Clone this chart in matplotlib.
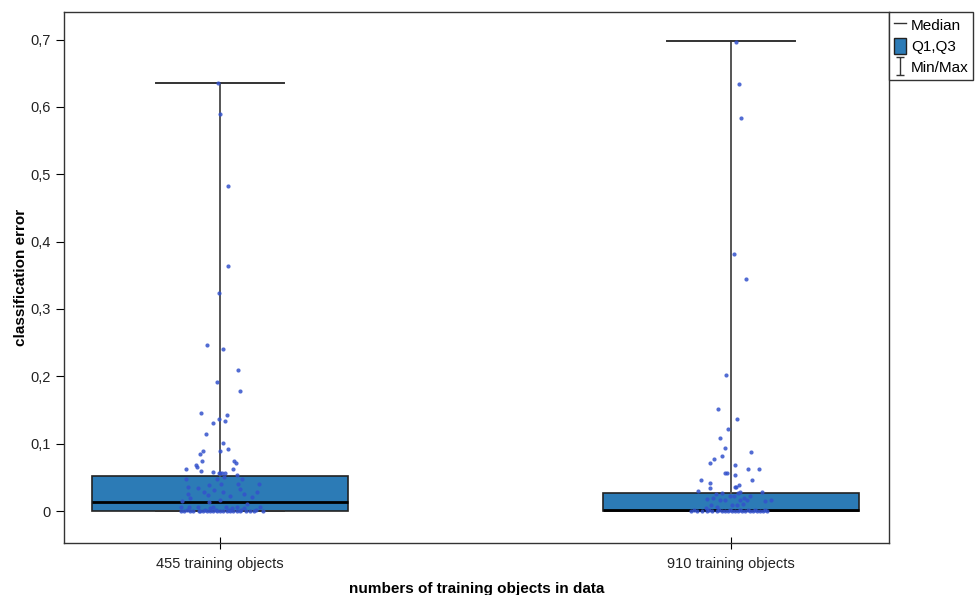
import matplotlib
matplotlib.use('Agg')
from matplotlib import pyplot as plt
from matplotlib.lines import Line2D
from matplotlib.patches import Patch
from matplotlib.path import Path
import numpy as np

plt.rcParams['font.family'] = ['Liberation Sans', 'DejaVu Sans']

categories = ['455 training objects', '910 training objects']

# box statistics per category
q1 = [0.0, 0.0]
median = [0.0138, 0.002]
q3 = [0.052, 0.027]
lo = [0.0, 0.0]
hi = [0.635, 0.698]

# individual runs: error value and horizontal jitter (pixels at original scale)
err_455 = [0.635, 0.589, 0.482, 0.364, 0.323, 0.246, 0.240, 0.210, 0.191, 0.178,
           0.145, 0.142, 0.137, 0.133, 0.130, 0.114, 0.101, 0.092, 0.089, 0.089,
           0.084, 0.075, 0.075, 0.072, 0.069, 0.066, 0.063, 0.060, 0.062, 0.058,
           0.056, 0.056, 0.056, 0.056, 0.054, 0.050, 0.047, 0.047, 0.047, 0.040,
           0.040, 0.040, 0.038, 0.036, 0.034, 0.033, 0.031, 0.028, 0.028, 0.028,
           0.025, 0.024, 0.023, 0.026, 0.021, 0.020, 0.015, 0.016, 0.014, 0.010,
           0.006, 0.006, 0.006, 0.006, 0.006, 0.006, 0.006, 0.004, 0.004, 0.004,
           0.0, 0.0, 0.0, 0.0, 0.0, 0.0, 0.0, 0.0, 0.0, 0.0, 0.0,
           0.0, 0.0, 0.0, 0.0, 0.0, 0.0, 0.0, 0.0, 0.0, 0.0, 0.0,
           0.002, 0.002, 0.002, 0.002, 0.002, 0.002]
jit_455 = [-2, 0, 8, 8, -1, -13, 3, 18, -3, 20,
           -19, 7, -1, 5, -7, -14, 3, 8, -17, 0,
           -20, -18, 14, 16, -24, -23, -34, -19, 13, -7,
           -1, 0, 2, 5, 17, 4, -3, -34, 22, 1,
           18, 39, -11, -32, -22, 20, -6, 37, 3, -16,
           -32, -12, 10, 24, 32, -30, -38, 0, -11, 27,
           -39, -31, -22, -7, 6, 17, 40, 12, 24, -10,
           -39, -36, -30, -27, -21, -20, -17, -13, -10, -7, -3,
           0, 3, 7, 10, 13, 17, 20, 26, 30, 34, 43,
           -33, -15, -4, 9, 21, 36]

err_910 = [0.697, 0.634, 0.583, 0.382, 0.345, 0.202, 0.152, 0.137, 0.122, 0.109,
           0.093, 0.087, 0.082, 0.077, 0.071, 0.068, 0.063, 0.063, 0.056, 0.056,
           0.053, 0.046, 0.046, 0.041, 0.034, 0.038, 0.035, 0.035, 0.029, 0.028,
           0.027, 0.028, 0.027, 0.025, 0.022, 0.022, 0.022, 0.018, 0.019, 0.016,
           0.016, 0.016, 0.019, 0.016, 0.015, 0.016, 0.009, 0.009, 0.009, 0.010,
           0.006, 0.004,
           0.0, 0.0, 0.0, 0.0, 0.0, 0.0, 0.0, 0.0, 0.0, 0.0,
           0.0, 0.0, 0.0, 0.0, 0.0, 0.0, 0.0, 0.0, 0.0, 0.0,
           0.002, 0.002, 0.002, 0.002, 0.002, 0.002, 0.002, 0.002]
jit_910 = [5, 8, 10, 3, 15, -5, -13, 6, -3, -11,
           -6, 20, -9, -17, -21, 4, 17, 28, -6, -4,
           4, 21, -30, -21, -21, 8, 4, 5, -33, 31,
           -9, 9, 7, -15, -1, 3, 19, -24, -18, -11,
           -6, 9, 13, 16, 34, 40, -20, 1, 6, 12,
           -14, -25,
           -40, -34, -29, -24, -19, -14, -9, -6, -3, 1,
           4, 7, 11, 14, 19, 22, 26, 29, 32, 36,
           -37, -22, -12, -1, 9, 17, 24, 34]

box_color = '#2c7bb6'
dot_color = '#3452cc'

fig = plt.figure(figsize=(9.76, 5.95), dpi=100)
ax = fig.add_axes([64/976, 1 - 543/595, (889 - 64)/976, (543 - 12)/595])

stats = []
for i in range(2):
    stats.append(dict(med=median[i], q1=q1[i], q3=q3[i], whislo=lo[i], whishi=hi[i], fliers=[]))

ax.bxp(stats, positions=[0, 1], widths=0.5, capwidths=0.25, patch_artist=True,
       boxprops=dict(facecolor=box_color, edgecolor='#222222', linewidth=1.2),
       medianprops=dict(color='black', linewidth=2),
       whiskerprops=dict(color='#555555', linewidth=1.4),
       capprops=dict(color='#333333', linewidth=1.4),
       manage_ticks=False, zorder=2)

px = 511.0  # pixels per category unit
for i, (err, jit) in enumerate([(err_455, jit_455), (err_910, jit_910)]):
    x = i + np.array(jit) / px
    ax.scatter(x, err, s=9, color=dot_color, alpha=0.85, linewidths=0, zorder=3)

ax.set_xlim(-0.305, 1.309)
ax.set_ylim(-0.0475, 0.741)
ax.set_xticks([0, 1])
ax.set_xticklabels(categories, fontsize=10.5, color='#222222')
yt = [0, 0.1, 0.2, 0.3, 0.4, 0.5, 0.6, 0.7]
ax.set_yticks(yt)
ax.set_yticklabels(['0'] + [f'{v:.1f}'.replace('.', ',') for v in yt[1:]],
                   fontsize=10.5, color='#222222')
ax.tick_params(axis='y', direction='out', length=6, width=0.8)
ax.tick_params(axis='x', direction='inout', length=8, width=0.8, pad=6)
for s in ax.spines.values():
    s.set_linewidth(1.0)
    s.set_color('#333333')

ax.set_xlabel('numbers of training objects in data', fontweight='bold', fontsize=11,
              labelpad=8)
ax.set_ylabel('classification error', fontweight='bold', fontsize=11, labelpad=2)

# I-beam marker for min/max
ibeam = Path([(-0.45, -1), (0.45, -1), (0, -1), (0, 1), (-0.45, 1), (0.45, 1)],
             [Path.MOVETO, Path.LINETO, Path.MOVETO, Path.LINETO, Path.MOVETO, Path.LINETO])
handles = [Line2D([], [], color='#333333', linewidth=1),
           Patch(facecolor=box_color, edgecolor='#222222'),
           Line2D([], [], linestyle='none', marker=ibeam, markersize=13,
                  markeredgecolor='#333333', markerfacecolor='none', markeredgewidth=1)]
leg = fig.legend(handles, ['Median', 'Q1,Q3', 'Min/Max'], loc='upper left',
                 bbox_to_anchor=(889/976, 1 - 12/595), fancybox=False, framealpha=1,
                 edgecolor='#333333', handlelength=0.8, handleheight=1.3, handletextpad=0.35,
                 borderpad=0.3, labelspacing=0.3, borderaxespad=0,
                 prop=dict(size=11))
leg.get_frame().set_linewidth(1.0)

fig.savefig('out.png', dpi=100)
